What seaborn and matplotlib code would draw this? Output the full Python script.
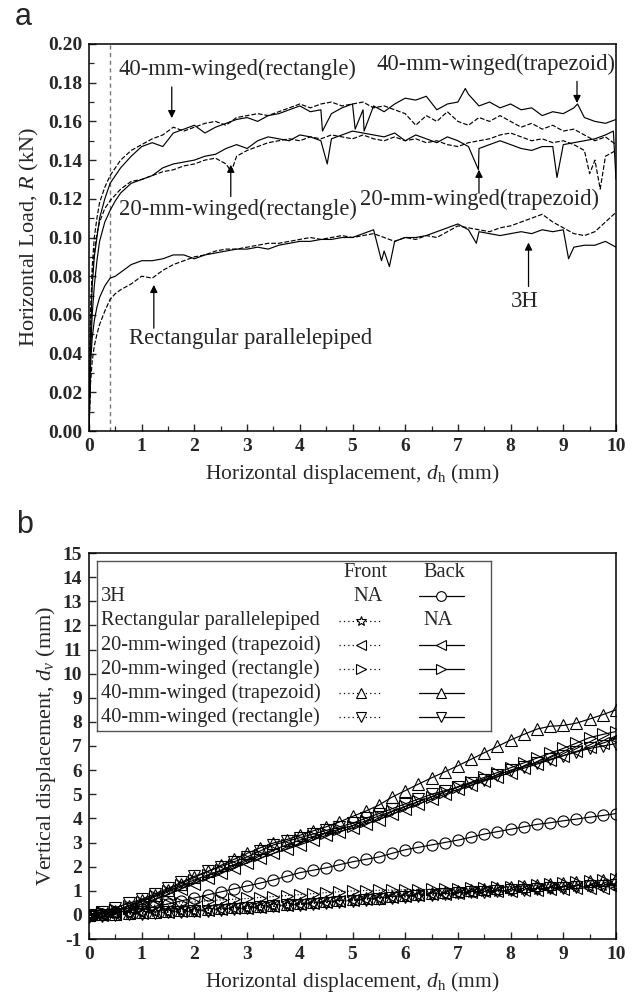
import numpy as np
import pandas as pd
import matplotlib
matplotlib.use("Agg")
import matplotlib.pyplot as plt
import seaborn as sns
from matplotlib.ticker import MultipleLocator

# ---------------- Panel a: horizontal load curves ----------------
xa = [0, 0.03, 0.06, 0.1, 0.15, 0.2, 0.3, 0.4, 0.5, 0.6,
      0.8, 1.0, 1.2, 1.4, 1.6, 1.8, 2.0, 2.2, 2.4, 2.6,
      2.8, 3.0, 3.2, 3.4, 3.6, 3.8, 4.0, 4.2, 4.4, 4.6,
      4.8, 5.0, 5.2, 5.4, 5.6, 5.8, 6.0, 6.2, 6.4, 6.6,
      6.8, 7.0, 7.2, 7.4, 7.6, 7.8, 8.0, 8.2, 8.4, 8.6,
      8.8, 9.0, 9.2, 9.4, 9.6, 9.8, 10.0]

load_40_trap = [0.000, 0.050, 0.075, 0.090, 0.100, 0.110, 0.120, 0.128, 0.132, 0.136,
                0.142, 0.147, 0.149, 0.147, 0.154, 0.156, 0.158, 0.154, 0.157, 0.159,
                0.161, 0.162, 0.160, 0.163, 0.164, 0.166, 0.168, 0.165, 0.166, 0.164,
                0.167, 0.169, 0.166, 0.168, 0.165, 0.169, 0.172, 0.171, 0.173, 0.166,
                0.169, 0.170, 0.174, 0.168, 0.170, 0.167, 0.169, 0.166, 0.167, 0.163,
                0.165, 0.164, 0.167, 0.162, 0.160, 0.159, 0.161]
spk_40_trap_x = [4.43, 5.05, 5.22, 7.14, 9.27]
spk_40_trap_y = [0.155, 0.156, 0.155, 0.177, 0.169]

load_40_rect = [0.000, 0.060, 0.085, 0.100, 0.110, 0.118, 0.126, 0.132, 0.136, 0.140,
                0.145, 0.148, 0.151, 0.153, 0.157, 0.155, 0.157, 0.159, 0.160, 0.158,
                0.162, 0.163, 0.164, 0.163, 0.165, 0.167, 0.169, 0.167, 0.169, 0.170,
                0.168, 0.169, 0.170, 0.167, 0.168, 0.166, 0.164, 0.158, 0.163, 0.160,
                0.165, 0.160, 0.158, 0.162, 0.160, 0.163, 0.160, 0.157, 0.159, 0.156,
                0.158, 0.155, 0.156, 0.153, 0.150, 0.152, 0.148]
spk_40_rect_x = []
spk_40_rect_y = []

load_20_trap = [0.000, 0.040, 0.060, 0.075, 0.088, 0.098, 0.108, 0.114, 0.119, 0.123,
                0.128, 0.130, 0.132, 0.136, 0.138, 0.139, 0.140, 0.142, 0.143, 0.146,
                0.148, 0.146, 0.150, 0.152, 0.151, 0.150, 0.153, 0.152, 0.150, 0.151,
                0.153, 0.155, 0.154, 0.153, 0.152, 0.154, 0.150, 0.153, 0.151, 0.149,
                0.152, 0.150, 0.147, 0.146, 0.148, 0.150, 0.148, 0.146, 0.145, 0.147,
                0.147, 0.148, 0.149, 0.150, 0.151, 0.153, 0.130]
spk_20_trap_x = [4.52, 7.39, 8.88, 9.95]
spk_20_trap_y = [0.138, 0.135, 0.131, 0.155]

load_20_rect = [0.000, 0.060, 0.080, 0.092, 0.102, 0.108, 0.115, 0.119, 0.122, 0.125,
                0.129, 0.130, 0.132, 0.134, 0.135, 0.137, 0.138, 0.140, 0.141, 0.138,
                0.142, 0.145, 0.147, 0.149, 0.150, 0.151, 0.150, 0.152, 0.151, 0.153,
                0.152, 0.151, 0.153, 0.151, 0.150, 0.152, 0.150, 0.151, 0.149, 0.150,
                0.148, 0.147, 0.149, 0.150, 0.151, 0.153, 0.154, 0.152, 0.150, 0.151,
                0.149, 0.150, 0.148, 0.145, 0.140, 0.142, 0.145]
spk_20_rect_x = [2.7, 9.5, 9.7]
spk_20_rect_y = [0.134, 0.133, 0.125]

load_3h = [0.000, 0.035, 0.048, 0.057, 0.064, 0.069, 0.075, 0.079, 0.080, 0.082,
           0.086, 0.088, 0.088, 0.089, 0.091, 0.091, 0.089, 0.091, 0.092, 0.093,
           0.094, 0.094, 0.095, 0.094, 0.096, 0.097, 0.098, 0.098, 0.099, 0.099,
           0.100, 0.100, 0.102, 0.104, 0.093, 0.098, 0.100, 0.100, 0.101, 0.103,
           0.105, 0.107, 0.104, 0.103, 0.102, 0.101, 0.102, 0.103, 0.102, 0.104,
           0.103, 0.104, 0.095, 0.096, 0.096, 0.098, 0.095]
spk_3h_x = [5.55, 5.7, 7.35, 9.1]
spk_3h_y = [0.088, 0.085, 0.097, 0.089]

load_rp = [0.000, 0.025, 0.036, 0.044, 0.050, 0.055, 0.062, 0.068, 0.071, 0.073,
           0.076, 0.080, 0.079, 0.083, 0.086, 0.088, 0.090, 0.091, 0.093, 0.094,
           0.094, 0.095, 0.096, 0.097, 0.097, 0.098, 0.099, 0.100, 0.099, 0.100,
           0.101, 0.100, 0.101, 0.102, 0.100, 0.098, 0.100, 0.099, 0.101, 0.100,
           0.103, 0.106, 0.105, 0.104, 0.103, 0.105, 0.106, 0.108, 0.110, 0.112,
           0.108, 0.105, 0.102, 0.101, 0.103, 0.108, 0.113]
spk_rp_x = []
spk_rp_y = []

# annotations: label, text position, arrow tail, arrow head
ann_labels = ["40-mm-winged(rectangle)", "40-mm-winged(trapezoid)",
              "20-mm-winged(rectangle)", "20-mm-winged(trapezoid)",
              "3H", "Rectangular parallelepiped"]
ann_text_xy = [(2.82, 0.1867), (7.73, 0.1893), (2.82, 0.1143), (7.41, 0.1195),
               (8.27, 0.0669), (3.06, 0.0479)]
ann_tail = [(1.57, 0.1778), (9.26, 0.1807), (2.69, 0.1212), (7.40, 0.1229),
            (8.34, 0.0747), (1.23, 0.0531)]
ann_head = [(1.57, 0.1617), (9.26, 0.1695), (2.69, 0.1376), (7.40, 0.1350),
            (8.34, 0.0974), (1.23, 0.0755)]

# ---------------- Panel b: vertical displacement ----------------
xb = [0.0, 0.25, 0.5, 0.75, 1.0, 1.25, 1.5, 1.75, 2.0, 2.25,
      2.5, 2.75, 3.0, 3.25, 3.5, 3.75, 4.0, 4.25, 4.5, 4.75,
      5.0, 5.25, 5.5, 5.75, 6.0, 6.25, 6.5, 6.75, 7.0, 7.25,
      7.5, 7.75, 8.0, 8.25, 8.5, 8.75, 9.0, 9.25, 9.5, 9.75, 10.0]

back_3h = [0.00, 0.05, 0.10, 0.17, 0.25, 0.35, 0.45, 0.58, 0.70, 0.83,
           0.95, 1.08, 1.20, 1.32, 1.45, 1.60, 1.75, 1.85, 1.95, 2.08,
           2.20, 2.30, 2.40, 2.55, 2.70, 2.80, 2.90, 3.00, 3.10, 3.22,
           3.35, 3.45, 3.55, 3.65, 3.75, 3.82, 3.90, 3.97, 4.05, 4.12, 4.20]
back_20_trap = [0.00, 0.05, 0.15, 0.28, 0.45, 0.65, 0.85, 1.08, 1.30, 1.52,
                1.75, 1.95, 2.15, 2.35, 2.55, 2.72, 2.90, 3.10, 3.30, 3.45,
                3.60, 3.78, 3.95, 4.18, 4.40, 4.60, 4.80, 5.00, 5.20, 5.38,
                5.55, 5.72, 5.90, 6.08, 6.25, 6.42, 6.60, 6.78, 6.95, 7.12, 7.30]
back_20_rect = [0.00, 0.08, 0.20, 0.36, 0.55, 0.78, 1.00, 1.22, 1.45, 1.65,
                1.85, 2.08, 2.30, 2.50, 2.70, 2.90, 3.10, 3.25, 3.40, 3.55,
                3.70, 3.90, 4.10, 4.30, 4.50, 4.70, 4.90, 5.10, 5.30, 5.50,
                5.70, 5.90, 6.10, 6.30, 6.50, 6.70, 6.90, 7.12, 7.35, 7.48, 7.60]
back_40_trap = [0.00, 0.05, 0.18, 0.38, 0.60, 0.82, 1.05, 1.30, 1.55, 1.80,
                2.05, 2.30, 2.55, 2.78, 2.98, 3.12, 3.30, 3.48, 3.65, 3.85,
                4.08, 4.30, 4.55, 4.88, 5.15, 5.42, 5.68, 5.93, 6.18, 6.45,
                6.72, 6.98, 7.25, 7.48, 7.70, 7.82, 7.85, 7.95, 8.12, 8.30, 8.50]
back_40_rect = [0.00, 0.12, 0.30, 0.48, 0.65, 0.88, 1.10, 1.35, 1.60, 1.80,
                2.00, 2.20, 2.40, 2.65, 2.90, 3.05, 3.20, 3.35, 3.50, 3.65,
                3.80, 4.00, 4.20, 4.40, 4.60, 4.80, 5.00, 5.15, 5.30, 5.45,
                5.60, 5.80, 6.00, 6.15, 6.30, 6.45, 6.60, 6.75, 6.90, 7.00, 7.10]

front_rp = [0.00, 0.00, 0.02, 0.05, 0.08, 0.10, 0.12, 0.14, 0.17, 0.19,
            0.22, 0.25, 0.28, 0.31, 0.35, 0.39, 0.43, 0.47, 0.51, 0.55,
            0.59, 0.63, 0.67, 0.71, 0.75, 0.78, 0.81, 0.84, 0.87, 0.90,
            0.93, 0.96, 0.99, 1.02, 1.05, 1.08, 1.11, 1.14, 1.17, 1.19, 1.21]
front_20_trap = [0.00, -0.02, 0.03, 0.06, 0.08, 0.12, 0.13, 0.16, 0.18, 0.22,
                 0.24, 0.27, 0.30, 0.33, 0.36, 0.40, 0.44, 0.48, 0.52, 0.57,
                 0.61, 0.66, 0.70, 0.74, 0.78, 0.81, 0.85, 0.88, 0.91, 0.94,
                 0.97, 0.99, 1.01, 1.03, 1.05, 1.07, 1.08, 1.10, 1.11, 1.12, 1.13]
front_20_rect = [0.00, 0.10, 0.20, 0.28, 0.35, 0.40, 0.45, 0.50, 0.54, 0.58,
                 0.62, 0.65, 0.68, 0.72, 0.76, 0.80, 0.84, 0.88, 0.92, 0.96,
                 0.99, 1.01, 1.02, 1.03, 1.04, 1.05, 1.06, 1.07, 1.08, 1.10,
                 1.12, 1.14, 1.17, 1.20, 1.24, 1.28, 1.32, 1.36, 1.40, 1.45, 1.50]
front_40_trap = [0.00, 0.02, 0.04, 0.07, 0.10, 0.13, 0.16, 0.19, 0.22, 0.25,
                 0.28, 0.31, 0.34, 0.37, 0.40, 0.44, 0.48, 0.52, 0.56, 0.60,
                 0.64, 0.68, 0.72, 0.77, 0.82, 0.86, 0.90, 0.95, 1.00, 1.04,
                 1.08, 1.12, 1.16, 1.20, 1.24, 1.28, 1.32, 1.36, 1.40, 1.45, 1.48]
front_40_rect = [-0.10, -0.05, 0.00, 0.02, 0.05, 0.07, 0.10, 0.12, 0.15, 0.18,
                 0.21, 0.24, 0.27, 0.31, 0.35, 0.39, 0.43, 0.47, 0.51, 0.55,
                 0.59, 0.63, 0.67, 0.71, 0.75, 0.79, 0.83, 0.87, 0.90, 0.93,
                 0.96, 0.99, 1.02, 1.05, 1.08, 1.10, 1.13, 1.16, 1.18, 1.21, 1.24]

legend_names = ["3H", "Rectangular parallelepiped", "20-mm-winged (trapezoid)",
                "20-mm-winged (rectangle)", "40-mm-winged (trapezoid)",
                "40-mm-winged (rectangle)"]
legend_markers = ["o", "*", "<", ">", "^", "v"]
has_front = [False, True, True, True, True, True]
has_back = [True, False, True, True, True, True]

# ---------------- styling ----------------
sns.set_style("ticks")
plt.rcParams["font.family"] = ["Liberation Serif", "DejaVu Serif"]
plt.rcParams["mathtext.fontset"] = "custom"
plt.rcParams["mathtext.rm"] = "Liberation Serif"
plt.rcParams["mathtext.it"] = "Liberation Serif:italic"
plt.rcParams["axes.linewidth"] = 1.1
plt.rcParams["axes.unicode_minus"] = False

fig = plt.figure(figsize=(6.4, 10), dpi=100)
ax1 = fig.add_axes([0.1391, 0.569, 0.8234, 0.387])
ax2 = fig.add_axes([0.1391, 0.061, 0.8234, 0.386])

TICK_FS = 14
LAB_FS = 15.5


def style_axes(ax):
    ax.tick_params(axis="both", which="major", direction="in", length=5, width=1,
                   top=False, right=False, pad=5, labelsize=TICK_FS)
    ax.tick_params(axis="both", which="minor", direction="in", length=3.4, width=0.9,
                   top=False, right=False)
    for lab in ax.get_xticklabels() + ax.get_yticklabels():
        lab.set_fontweight("bold")
    for s in ax.spines.values():
        s.set_color("black")
        s.set_linewidth(1.1)


def top_curve(y, sx, sy, ls):
    df = pd.DataFrame({"x": list(xa) + list(sx), "y": list(y) + list(sy)})
    df = df.sort_values("x")
    sns.lineplot(data=df, x="x", y="y", ax=ax1, color="black", lw=0.85,
                 linestyle=ls, estimator=None, sort=True)


dash = (0, (4, 1.6))
top_curve(load_40_rect, spk_40_rect_x, spk_40_rect_y, dash)
top_curve(load_40_trap, spk_40_trap_x, spk_40_trap_y, "-")
top_curve(load_20_rect, spk_20_rect_x, spk_20_rect_y, dash)
top_curve(load_20_trap, spk_20_trap_x, spk_20_trap_y, "-")
top_curve(load_rp, spk_rp_x, spk_rp_y, dash)
top_curve(load_3h, spk_3h_x, spk_3h_y, "-")

ax1.axvline(0.4, color="#777777", lw=1.0, ls=(0, (3, 2.5)), zorder=1)

for lab, txy, tail, head in zip(ann_labels, ann_text_xy, ann_tail, ann_head):
    ax1.text(txy[0], txy[1], lab, ha="center", va="center", fontsize=16.3)
    ax1.annotate("", xy=head, xytext=tail,
                 arrowprops=dict(arrowstyle="-|>", color="black", lw=0.9,
                                 mutation_scale=11, shrinkA=0, shrinkB=0))

ax1.set_xlim(0, 10)
ax1.set_ylim(0, 0.20)
ax1.xaxis.set_major_locator(MultipleLocator(1))
ax1.xaxis.set_minor_locator(MultipleLocator(0.5))
ax1.yaxis.set_minor_locator(MultipleLocator(0.01))
ax1.set_yticks(np.arange(0, 0.2001, 0.02))
ax1.set_yticklabels([f"{v:.2f}" for v in np.arange(0, 0.2001, 0.02)])
ax1.set_xlabel(r"Horizontal displacement, $d_\mathrm{h}$ (mm)", fontsize=LAB_FS, labelpad=5)
ax1.set_ylabel(r"Horizontal Load, $R$ (kN)", fontsize=16, labelpad=5)
style_axes(ax1)

# ---------------- panel b curves ----------------
mk_kw = dict(markersize=8, markerfacecolor="none", markeredgecolor="black",
             markeredgewidth=0.8, color="black", lw=0.85)

front_series = [(front_rp, "*"), (front_20_trap, "<"), (front_20_rect, ">"),
                (front_40_trap, "^"), (front_40_rect, "v")]
back_series = [(back_3h, "o"), (back_20_trap, "<"), (back_20_rect, ">"),
               (back_40_trap, "^"), (back_40_rect, "v")]

for vals, m in front_series:
    sns.lineplot(x=xb, y=vals, ax=ax2, marker=m, linestyle=":", estimator=None,
                 **mk_kw)
for vals, m in back_series:
    sns.lineplot(x=xb, y=vals, ax=ax2, marker=m, linestyle="-", estimator=None,
                 **mk_kw)

ax2.set_xlim(0, 10)
ax2.set_ylim(-1, 15)
ax2.xaxis.set_major_locator(MultipleLocator(1))
ax2.xaxis.set_minor_locator(MultipleLocator(0.5))
ax2.yaxis.set_major_locator(MultipleLocator(1))
ax2.set_xlabel(r"Horizontal displacement, $d_\mathrm{h}$ (mm)", fontsize=LAB_FS, labelpad=5)
ax2.set_ylabel(r"Vertical displacement, $d_v$ (mm)", fontsize=16, labelpad=3)
style_axes(ax2)

# ---------------- table-like legend ----------------
lax = ax2.inset_axes([0.15, 7.64, 7.47, 7.04], transform=ax2.transData)
lax.set_xlim(0.15, 7.62)
lax.set_ylim(7.64, 14.68)
lax.set_xticks([])
lax.set_yticks([])
for s in lax.spines.values():
    s.set_color("#555555")
    s.set_linewidth(1.0)
lax.set_facecolor("white")

LEG_FS = 14.7
front_x = (4.75, 5.17, 5.56)
back_x = (6.26, 6.67, 7.11)
lax.text(5.25, 14.2, "Front", ha="center", va="center", fontsize=LEG_FS)
lax.text(6.74, 14.2, "Back", ha="center", va="center", fontsize=LEG_FS)
for i, (name, m, hf, hb) in enumerate(zip(legend_names, legend_markers, has_front, has_back)):
    yy = 13.2 - i * 1.0
    lax.text(0.23, yy, name, ha="left", va="center", fontsize=LEG_FS)
    if hf:
        lax.plot([front_x[0], front_x[2]], [yy, yy], ls=(0, (1, 2.5)), color="black", lw=0.9)
        lax.plot([front_x[1]], [yy], marker=m, ms=7, mfc="white", mec="black", mew=0.8)
    else:
        lax.text(5.29, yy, "NA", ha="center", va="center", fontsize=LEG_FS)
    if hb:
        lax.plot([back_x[0], back_x[2]], [yy, yy], ls="-", color="black", lw=0.9)
        lax.plot([back_x[1]], [yy], marker=m, ms=7, mfc="white", mec="black", mew=0.8)
    else:
        lax.text(6.63, yy, "NA", ha="center", va="center", fontsize=LEG_FS)

fig.text(23 / 640, 1 - 17 / 1000, "a", ha="center", va="center", fontsize=22,
         family=["Liberation Sans", "DejaVu Sans"])
fig.text(25 / 640, 1 - 525 / 1000, "b", ha="center", va="center", fontsize=22,
         family=["Liberation Sans", "DejaVu Sans"])

fig.savefig("out.png", dpi=100)
